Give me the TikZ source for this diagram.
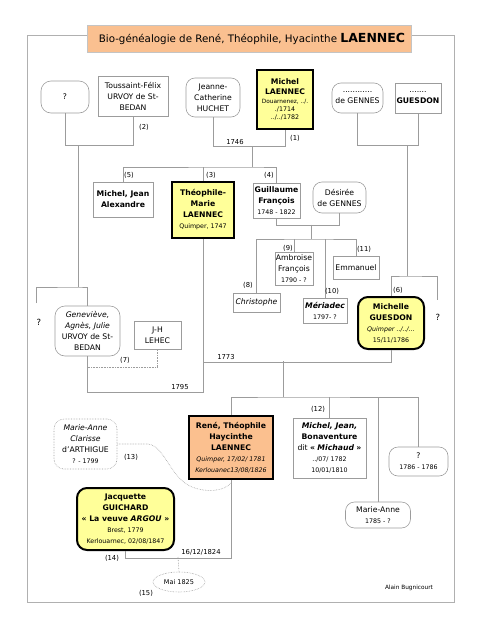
\documentclass[tikz,border=0pt]{standalone}
\usepackage{fontspec}
\setmainfont{DejaVu Sans}
\usetikzlibrary{shapes.geometric}
\definecolor{ylw}{HTML}{FFFF99}
\definecolor{org}{HTML}{FBC08F}
\definecolor{ttl}{HTML}{FAC090}
\definecolor{ln}{HTML}{9C9C9C}
\newcommand\smf{\fontsize{6.3}{7.5}\selectfont}
\newcommand\bff{\bfseries}
\tikzset{
  base/.style={draw=ln, line width=0.6pt, align=center, inner sep=0.5pt,
    font=\fontsize{7.7}{11}\selectfont},
  sz/.style n args={2}{minimum width=#1pt, minimum height=#2pt},
  sbox/.style={base},
  rbox/.style={base, rounded corners=9pt},
  keybox/.style={base, draw=black, line width=2pt, fill=ylw},
  conn/.style={draw=ln, line width=0.6pt},
  dotconn/.style={draw=ln, line width=0.6pt, densely dotted},
  lbl/.style={font=\fontsize{6.8}{8}\selectfont, inner sep=0pt},
}
\begin{document}
\begin{tikzpicture}[x=1pt,y=-1pt]
\useasboundingbox (0,0) rectangle (480,640);
% frame
\draw[draw=ln!80, line width=0.6pt] (27,35) rectangle (454,602);
\node[draw=ln!60, fill=ttl, sz={324}{27}, inner sep=0pt, font=\fontsize{10.3}{12}\selectfont] (title) at (249,38.5)
  {\hspace*{6pt}Bio-généalogie de René, Théophile, Hyacinthe {\bfseries\fontsize{12.5}{12}\selectfont LAENNEC}};

% generation 1
\node[rbox, rounded corners=10pt, sz={48}{32}] (q1) at (65,97) {?};
\node[sbox, sz={70}{40}] (tous) at (133,96) {Toussaint-Félix\\URVOY de St-\\BEDAN};
\node[rbox, sz={54}{39}] (jeanne) at (213,97.5) {Jeanne-\\Catherine\\HUCHET};
\node[keybox, sz={56}{59}] (michel) at (285,99.5) {\bff Michel\\[-1pt]\bff LAENNEC\\[-2pt]\fontsize{5.8}{7}\selectfont Douarnenez, ../.\\[-3pt]\smf ./1714\\[-3pt]\smf ../../1782};
\node[rbox, sz={51}{30}] (gennes) at (357.5,98) {............\\de GENNES};
\node[sbox, sz={46}{30}] (guesdon) at (418,98) {.......\\\bff GUESDON};

% generation 2
\node[sbox, sz={60}{35}] (mja) at (123,199.5) {\bff Michel, Jean\\\bff Alexandre};
\node[keybox, sz={62}{56}] (theo) at (203,210) {\bff Théophile-\\\bff Marie\\\bff LAENNEC\\\smf Quimper, 1747};
\node[sbox, sz={47}{35}] (guil) at (276.5,200.5) {\bff Guillaume\\\bff François\\\smf 1748 - 1822};
\node[rbox, sz={53}{31}] (desiree) at (339.5,197.5) {Désirée\\de GENNES};

% generation 3 (Guillaume)
\node[sbox, sz={38}{33}] (ambr) at (294,268.5) {Ambroise\\François\\\smf 1790 - ?};
\node[sbox, sz={46}{23}] (emman) at (356,267.5) {Emmanuel};
\node[sbox, sz={47}{19}] (christ) at (256.5,302.5) {\itshape Christophe};
\node[sbox, sz={44}{25}] (meri) at (325,310.5) {\bfseries\itshape Mériadec\\\smf 1797- ?};
\node[keybox, rounded corners=10pt, sz={66}{52}] (michelle) at (391,323) {\bff Michelle\\\bff GUESDON\\\smf\itshape Quimper ../../...\\\smf 15/11/1786};
\node[rbox, rounded corners=10pt, sz={65}{50}] (genev) at (87.5,331) {\itshape Geneviève,\\\itshape Agnès, Julie\\URVOY de St-\\BEDAN};
\node[sbox, sz={47}{28}] (lehec) at (157.5,335) {J-H\\LEHEC};

% generation 4
\node[keybox, fill=org, sz={84}{63}] (rene) at (231,447.5) {\bff René, Théophile\\\bff Haycinthe\\\bff LAENNEC\\\smf\itshape Quimper, 17/02/ 1781\\\smf\itshape Kerlouanec13/08/1826};
\node[sbox, sz={73}{60}] (mjb) at (329.5,448) {\bfseries\itshape Michel, Jean,\\\bff Bonaventure\\dit {\bfseries «} {\bfseries\itshape Michaud} {\bfseries »}\\\smf ../07/ 1782\\\smf 10/01/1810};
\node[rbox, sz={59}{29}] (q1786) at (418.5,461.5) {?\\\smf 1786 - 1786};
\node[rbox, sz={65}{26}] (ma1785) at (378,515) {Marie-Anne\\\smf 1785 - ?};
\node[rbox, rounded corners=10pt, dotconn, sz={63}{50}] (clar) at (85.5,444) {\itshape Marie-Anne\\\itshape Clarisse\\d'ARTHIGUE\\\smf ? - 1799};
\node[keybox, rounded corners=10pt, sz={97}{62}] (jacq) at (125.5,519) {\bff Jacquette\\\bff GUICHARD\\\bff « La veuve \textit{ARGOU} »\\\smf Brest, 1779\\\smf Kerlouarnec, 02/08/1847};
\node[ellipse, dotconn, sz={52}{20}, inner sep=0pt, font=\fontsize{6.5}{7}\selectfont] (mai) at (179,582) {Mai 1825};

% connectors generation 1
\draw[conn] (q1.south) -- ++(0,32) -| (tous.south);
\coordinate (j1) at (78,145); \coordinate (j1b) at (78,287); \coordinate (qL) at (36,303);
\draw[conn] (j1) -- (j1b);
\draw[conn] (qL) |- (j1b) -| (genev.north);
\draw[conn] (jeanne.south) -- ++(0,28.5) -| (michel.south);
\coordinate (j2) at (252,146); \coordinate (j2b) at (252,167);
\draw[conn] (j2) -- (j2b);
\draw[conn] (mja.north) |- (j2b) -| (guil.north);
\draw[conn] (theo.north) -- (theo.north |- j2b);
\draw[conn] (gennes.south) -- ++(0,32) -| (guesdon.south);
\coordinate (j3) at (407,145); \coordinate (j3b) at (407,276); \coordinate (qR) at (437,300);
\draw[conn] (j3) -- (j3b);
\draw[conn] (michelle.north) |- (j3b) -| (qR);
% Guillaume family
\draw[conn] (guil.south) -- ++(0,6.5) -| (desiree.south);
\coordinate (j4) at (311,224.5); \coordinate (j4b) at (311,239);
\draw[conn] (j4) -- (j4b);
\draw[conn] (christ.north) |- (j4b) -| (emman.north);
\draw[conn] (ambr.north) -- (ambr.north |- j4b);
\draw[conn] (meri.north) -- (meri.north |- j4b);
% Geneviève
\draw[dotconn] (genev.south) -- ++(0,11) -| (lehec.south);
\draw[conn] (genev.south) -- ++(0,36) -| (theo.south);
% Théophile + Michelle
\draw[conn] (michelle.south) -- ++(0,12) -| (theo.south);
\coordinate (j5) at (283,361); \coordinate (j5b) at (283,397);
\draw[conn] (j5) -- (j5b);
\draw[conn] (rene.north) |- (j5b) -| (q1786.north);
\draw[conn] (mjb.north) -- (mjb.north |- j5b);
\draw[conn] (ma1785.north) -- (ma1785.north |- j5b);
% René
\draw[conn] (rene.south) -- ++(0,78) -| (jacq.south);
\coordinate (j6) at (178,557);
\draw[dotconn] (j6) -- (mai.north);
\coordinate (rj) at (231,483);
\draw[dotconn] (clar.east) -- (148,444) .. controls (165,446) and (170,478) .. (192,487) .. controls (208,493) and (224,491) .. (rj);

% labels
\node[lbl] (l1) at (295,138) {(1)};
\node[lbl] (l2) at (144,127) {(2)};
\node[lbl] (l3) at (211,175) {(3)};
\node[lbl] (l4) at (269,175) {(4)};
\node[lbl] (l5) at (129,175) {(5)};
\node[lbl] (l6) at (398,290) {(6)};
\node[lbl] (l7) at (125,360) {(7)};
\node[lbl] (l8) at (248,285) {(8)};
\node[lbl] (l9) at (288,248) {(9)};
\node[lbl] (l10) at (332,291) {(10)};
\node[lbl] (l11) at (364,249) {(11)};
\node[lbl] (l12) at (318,409) {(12)};
\node[lbl] (l13) at (131,457) {(13)};
\node[lbl] (l14) at (112,558) {(14)};
\node[lbl] (l15) at (146,593) {(15)};
\node[lbl] (y1746) at (235,142) {1746};
\node[lbl] (y1773) at (226,357) {1773};
\node[lbl] (y1795) at (180,387) {1795};
\node[lbl] (y1824) at (201,552) {16/12/1824};
\node[font=\fontsize{8.5}{9}\selectfont, inner sep=0pt] (qLt) at (39,322) {?};
\node[font=\fontsize{8.5}{9}\selectfont, inner sep=0pt] (qRt) at (438,317) {?};
\node[font=\fontsize{5.8}{6}\selectfont, inner sep=0pt] (author) at (409,588) {Alain Bugnicourt};
\end{tikzpicture}
\end{document}
